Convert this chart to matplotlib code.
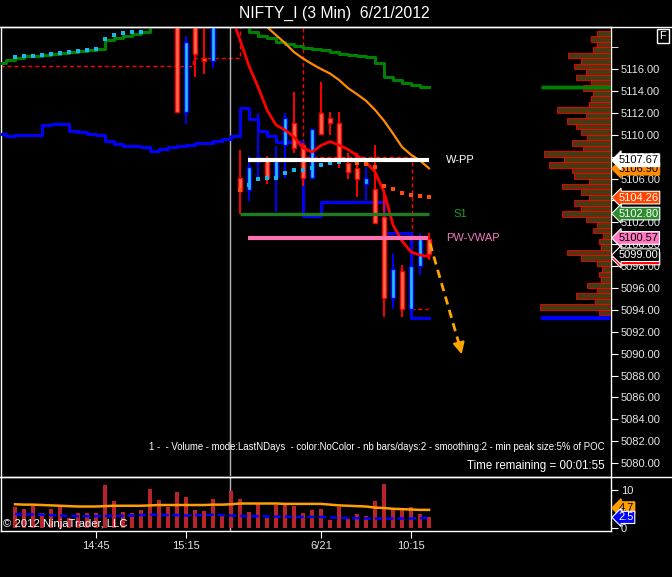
import numpy as np
import matplotlib
matplotlib.use('Agg')
import matplotlib.pyplot as plt
from matplotlib import transforms
from matplotlib.lines import Line2D

plt.rcParams['font.family'] = ['Liberation Sans', 'DejaVu Sans']

# candles (bar index, open, high, low, close) - bars above the visible range are left out
cdl_idx = [18, 19, 20, 21, 22, 25, 26, 27, 28, 29, 30, 31, 32, 33, 34, 35, 36, 37, 38, 39, 40, 41, 42, 43, 44, 45, 46]
cdl_open = [5121.5, 5112.05, 5120.5, 5116.98, 5116.73, 5106.02, 5104.95, 5107.48, 5107.90, 5106.11, 5109.06, 5111.04,
            5109.04, 5106.02, 5111.95, 5111.50, 5111.04, 5107.44, 5106.93, 5105.47, 5105.01, 5102.46, 5095.06,
            5097.55, 5094.08, 5098.04, 5100.45]
cdl_high = [5122.0, 5119.0, 5121.0, 5120.3, 5121.0, 5108.60, 5108.05, 5111.95, 5108.05, 5108.94, 5112.03, 5113.93,
            5109.24, 5110.52, 5114.84, 5112.10, 5112.10, 5108.30, 5108.30, 5107.08, 5109.06, 5104.95, 5099.10,
            5098.10, 5098.10, 5101.00, 5101.00]
cdl_low = [5112.0, 5111.0, 5115.3, 5115.57, 5116.06, 5102.76, 5103.95, 5106.05, 5105.47, 5102.97, 5106.05, 5108.30,
           5105.36, 5105.95, 5110.02, 5109.97, 5107.00, 5106.00, 5104.34, 5104.04, 5101.94, 5093.38, 5094.06,
           5093.32, 5094.00, 5097.19, 5098.56]
cdl_close = [5112.05, 5118.45, 5117.35, 5116.70, 5120.5, 5104.90, 5107.08, 5108.01, 5106.07, 5107.60, 5111.55, 5108.76,
             5106.02, 5110.49, 5110.04, 5111.04, 5107.69, 5106.57, 5105.93, 5106.02, 5101.98, 5095.06, 5097.71,
             5094.06, 5098.04, 5100.47, 5099.11]

# stepped trailing lines
green_x = [-1.7, -1, 0, 1, 3, 4, 5, 6, 7, 8, 9, 10, 11, 12, 13, 14, 15,
           26, 27, 28, 29, 30, 31, 32, 33, 34, 35, 36, 37, 38, 39, 40, 41, 42, 43, 44, 45, 46]
green_y = [5116.58, 5116.85, 5117.03, 5117.19, 5117.28, 5117.37, 5117.46, 5117.55, 5117.64, 5117.74, 5117.83,
           5118.62, 5118.86, 5119.04, 5119.17, 5119.35, 5121.0,
           5119.35, 5119.04, 5118.80, 5118.44, 5118.26, 5118.07, 5117.89, 5117.83, 5117.71, 5117.58, 5117.40,
           5117.28, 5117.16, 5117.07, 5116.58, 5115.30, 5115.00, 5114.69, 5114.51, 5114.33, 5114.33]
blue_x = [-1.7, -1, 0, 3, 4, 6, 7, 8, 9, 10, 11, 12, 14, 15, 16, 17, 18, 19, 20, 21, 22, 23, 24,
          25, 26, 27, 28, 29, 32, 34, 41, 44, 46]
blue_y = [5110.04, 5109.91, 5110.0, 5110.86, 5111.0, 5110.34, 5110.25, 5110.09, 5110.0, 5109.42, 5109.18, 5109.0,
          5108.88, 5108.51, 5108.72, 5108.90, 5109.0, 5109.09, 5109.21, 5109.27, 5109.40, 5109.58, 5109.91,
          5112.41, 5111.46, 5110.37, 5109.91, 5109.31, 5102.58, 5103.85, 5101.0, 5093.29, 5093.29]

# stop dots
cyan_x = [0, 1, 2, 3, 4, 5, 6, 7, 8, 9, 10, 11, 12, 13, 14, 26, 27, 28, 29, 30, 31, 32, 33, 34, 35, 36]
cyan_y = [5117.10, 5117.21, 5117.21, 5117.31, 5117.40, 5117.49, 5117.58, 5117.67, 5117.76, 5117.85, 5118.77,
          5119.13, 5119.26, 5119.35, 5119.41, 5105.41, 5105.98, 5106.07, 5106.07, 5106.53, 5106.78, 5106.78,
          5106.93, 5107.26, 5107.44, 5107.53]
dot_x = [25, 37, 38, 39, 40, 41, 42, 43, 44, 45, 46]
dot_y = [5104.98, 5107.70, 5107.42, 5107.32, 5107.08, 5105.32, 5105.07, 5104.70, 5104.49, 5104.40, 5104.31]

# moving averages
ema_x = list(range(24, 47))
ema_y = [5121.0, 5118.65, 5116.27, 5114.36, 5112.26, 5110.89, 5110.43, 5109.79, 5108.79, 5108.42, 5109.02,
         5109.38, 5109.06, 5108.65, 5108.10, 5107.50, 5106.60, 5104.77, 5101.75, 5100.29, 5099.29, 5099.01, 5098.86]
sma_x = list(range(27, 47))
sma_y = [5121.0, 5119.84, 5119.10, 5118.37, 5117.55, 5116.96, 5116.46, 5116.0, 5115.59, 5115.0, 5114.26,
         5113.70, 5113.10, 5112.27, 5111.28, 5110.11, 5108.88, 5108.17, 5107.64, 5106.93]

# dashed day high/low
dash1_x = [-1.7, 19.8, 19.8, 25.0, 25.0]
dash1_y = [5116.25, 5116.25, 5116.98, 5116.98, 5121.0]
dash2_x = [32.0, 32.0, 44.1, 44.1, 45.9]
dash2_y = [5121.0, 5107.96, 5107.96, 5094.08, 5094.08]

wpp, s1, pwvwap = 5107.67, 5102.80, 5100.57

# volume panel
vol = [5.55, 4.9, 5.7, 3.9, 4.9, 5.55, 2.6, 3.9, 3.9, 3.9, 11.3, 7.1, 4.1, 3.9, 4.8, 10.4, 7.4, 5.55, 9.6, 8.2,
       4.6, 4.3, 7.6, 3.3, 9.8, 7.6, 4.1, 6.2, 2.5, 6.1, 6.2, 5.7, 3.9, 4.6, 4.9, 1.9, 5.4, 2.3, 3.7, 3.0,
       7.1, 11.7, 5.3, 4.9, 5.5, 3.6, 2.7]
vol_avg = [6.2, 6.1, 6.1, 6.0, 5.9, 5.8, 5.7, 5.6, 5.6, 5.6, 5.7, 5.8, 5.8, 5.8, 5.8, 5.9, 6.0, 6.0, 6.0, 6.0,
           6.0, 6.0, 6.1, 6.1, 6.2, 6.4, 6.4, 6.4, 6.4, 6.4, 6.3, 6.3, 6.3, 6.3, 6.3, 6.1, 5.9, 5.8, 5.7, 5.6,
           5.3, 5.2, 5.0, 4.9, 4.8, 4.7, 4.7]
vol_slow = [3.6, 3.5, 3.5, 3.4, 3.3, 3.2, 3.1, 3.0, 3.0, 3.0, 3.1, 3.1, 3.1, 3.2, 3.3, 3.4, 3.4, 3.3, 3.3, 3.2,
            3.3, 3.3, 3.4, 3.3, 3.2, 3.1, 3.0, 3.0, 2.9, 2.9, 2.9, 2.8, 2.8, 2.8, 2.8, 2.7, 2.6, 2.5, 2.5, 2.4,
            2.4, 2.4, 2.4, 2.4, 2.4, 2.5, 2.5]

# volume profile on the right
prof_price = np.arange(5093.75, 5119.5, 0.5)
prof_len = [12, 72, 16, 35, 14, 24, 10, 12, 9, 14, 30, 45, 10, 12, 8, 18, 14, 25, 50, 30, 38, 22, 30, 50, 22, 38,
            40, 63, 48, 68, 28, 40, 24, 30, 35, 45, 25, 55, 22, 20, 18, 28, 20, 35, 25, 38, 30, 44, 18, 14, 20, 14]

time_ticks = [9, 19, 34, 44]
time_labels = ['14:45', '15:15', '6/21', '10:15']

W, H = 672, 577
fig = plt.figure(figsize=(6.72, 5.77), dpi=100, facecolor='black')


def fbox(x0, y0, x1, y1):
    return [x0 / W, 1 - y1 / H, (x1 - x0) / W, (y1 - y0) / H]


ax = fig.add_axes(fbox(1, 27, 611, 476))
axv = fig.add_axes(fbox(1, 477, 611, 531))
axp = fig.add_axes(fbox(540, 27, 611, 476))

xlim = (-1.56, 66.22)
ylim = (5078.83, 5119.84)
for a in (ax, axv):
    a.set_facecolor('black')
    a.set_xlim(*xlim)
    for s in a.spines.values():
        s.set_color('white')
        s.set_linewidth(1)

ax.set_ylim(*ylim)
ax.spines['bottom'].set_visible(False)
ax.set_xticks([])
ax.yaxis.tick_right()
ax.set_yticks(np.arange(5080, 5117, 2))
ax.set_yticks([5118], minor=True)
ax.yaxis.set_major_formatter(plt.FormatStrFormatter('%.2f'))
ax.tick_params(axis='y', which='both', colors='white', labelcolor='#e6e6e6', labelsize=8, length=5, pad=2)

# lines
ax.plot(green_x, green_y, drawstyle='steps-post', color='#008000', lw=2.2, zorder=3)
ax.plot(blue_x, blue_y, drawstyle='steps-post', color='#0000ff', lw=2.2, zorder=3)
ax.plot(dash1_x, dash1_y, color='#ff0000', lw=1, ls=(0, (3, 2)), zorder=2)
ax.plot(dash2_x, dash2_y, color='#ff0000', lw=1, ls=(0, (3, 2)), zorder=2)
ax.plot(sma_x, sma_y, color='#ff8c00', lw=1.6, zorder=4)

# candles
for i, o, h, l, c in zip(cdl_idx, cdl_open, cdl_high, cdl_low, cdl_close):
    if c >= o:
        fill, edge = '#1ec8ff', '#0000ff'
    else:
        fill, edge = '#ff6a4d', '#ff0000'
    ax.vlines(i, l, h, color=edge, lw=1.4, zorder=5)
    ax.bar(i, abs(c - o), bottom=min(o, c), width=0.5, color=fill, edgecolor=edge, lw=1, zorder=6)

ax.plot(ema_x, ema_y, color='#ff0000', lw=2, zorder=7)
ax.plot(cyan_x, cyan_y, 's', color='#18b8ee', ms=3.2, mew=0, zorder=8)
ax.plot(dot_x, dot_y, 's', color='#ff4a10', ms=3.2, mew=0, zorder=8)

# pivots
ax.hlines(wpp, 25.9, 46, color='white', lw=3, zorder=9)
ax.hlines(s1, 25.0, 46, color='#207a20', lw=2.4, zorder=9)
ax.hlines(pwvwap, 25.9, 45.9, color='#ff70b0', lw=3, zorder=9)
ax.text(47.9, wpp, 'W-PP', color='white', fontsize=8, va='center', zorder=9)
ax.text(48.7, s1, 'S1', color='#22a022', fontsize=8, va='center', zorder=9)
ax.text(47.9, pwvwap, 'PW-VWAP', color='#f07ac0', fontsize=8, va='center', zorder=9)

# forecast arrow
ax.plot([46.1, 49.3], [5100.1, 5091.0], color='#ffa500', lw=2, ls=(0, (3, 2)), zorder=9)
ax.annotate('', xy=(49.7, 5089.7), xytext=(49.25, 5091.2),
            arrowprops=dict(arrowstyle='-|>,head_length=0.7,head_width=0.35', color='#ffa500', lw=1.5), zorder=9)

# right extensions of green / blue
ax.hlines(5114.33, 58.4, 66.2, color='#008000', lw=2.5, zorder=3)
ax.hlines(5093.29, 58.4, 66.2, color='#0000ff', lw=3, zorder=3)

# session break
ax.axvline(23.9, color='#b4b4b4', lw=1, zorder=2)
axv.axvline(23.9, color='#b4b4b4', lw=1, zorder=2)

# profile
axp.set_ylim(*ylim)
axp.set_xlim(72, 0)
axp.patch.set_visible(False)
axp.axis('off')
axp.barh(prof_price, prof_len, height=0.5, color='#4a3a12', edgecolor='#ff0000', lw=0.6)
axp.hlines(5114.33, 0, 70, color='#008000', lw=2.5)
axp.hlines(5093.29, 0, 70, color='#0000ff', lw=3)

# price tags
tr = transforms.blended_transform_factory(ax.transAxes, ax.transData)
tags = [(5106.90, '5106.90', '#ff8c00', 'black', '#ff8c00'),
        (5107.67, '5107.67', 'white', 'black', 'white'),
        (5104.26, '5104.26', '#ff4500', 'white', 'white'),
        (5102.80, '5102.80', '#2e8b2e', 'white', 'white'),
        (5100.57, '5100.57', '#ff77c0', 'black', 'white'),
        (5098.70, '5098.86', '#ff0000', 'white', 'white'),
        (5099.00, '5099.00', 'black', 'white', 'white')]
for p, t, fc, tc, ec in tags:
    ax.text(1.012, p, t, transform=tr, ha='left', va='center', fontsize=8, color=tc, clip_on=False, zorder=20,
            bbox=dict(boxstyle='larrow,pad=0.12', fc=fc, ec=ec, lw=0.8))

# volume panel
vx = np.arange(len(vol))
axv.set_ylim(-0.93, 13.47)
axv.bar(vx, vol, width=0.38, color='#b8242a', zorder=2)
axv.plot(vx, vol_avg, color='#ffa000', lw=1.8, zorder=3)
axv.plot(vx, vol_slow, color='#0000ff', lw=1.8, ls=(0, (3, 1.5)), zorder=3)
axv.yaxis.tick_right()
axv.set_yticks([0, 10])
axv.tick_params(axis='y', colors='white', labelcolor='#e6e6e6', labelsize=8, length=5, pad=2)
axv.set_xticks(time_ticks)
axv.set_xticklabels(time_labels)
axv.tick_params(axis='x', colors='white', labelcolor='#e6e6e6', labelsize=8, length=5, pad=2)
trv = transforms.blended_transform_factory(axv.transAxes, axv.transData)
axv.text(1.012, 5.2, '4.7', transform=trv, ha='left', va='center', fontsize=8, color='black', clip_on=False,
         zorder=20, bbox=dict(boxstyle='larrow,pad=0.1', fc='#ffa000', ec='#ffa000'))
axv.text(1.012, 2.7, '2.5', transform=trv, ha='left', va='center', fontsize=8, color='white', clip_on=False,
         zorder=20, bbox=dict(boxstyle='larrow,pad=0.1', fc='#0000ff', ec='white', lw=0.8))

# frame lines across the full width
fig.add_artist(Line2D([0, 1], [1 - 27 / H, 1 - 27 / H], color='white', lw=1))
fig.add_artist(Line2D([0, 1], [1 - 477 / H, 1 - 477 / H], color='white', lw=1))

fig.text(0.497, 1 - 13 / H, 'NIFTY_I (3 Min)  6/21/2012', ha='center', va='center', color='white', fontsize=11.3)
fig.text(663 / W, 1 - 36 / H, 'F', ha='center', va='center', color='white', fontsize=8,
         bbox=dict(boxstyle='square,pad=0.2', fc='black', ec='white', lw=1))
fig.text(605 / W, 1 - 447 / H, '1 -  - Volume - mode:LastNDays  - color:NoColor - nb bars/days:2 - smoothing:2 - min peak size:5% of POC',
         ha='right', va='center', color='white', fontsize=6.9)
fig.text(605 / W, 1 - 466 / H, 'Time remaining = 00:01:55', ha='right', va='center', color='white', fontsize=8.3)
fig.text(3 / W, 1 - 524 / H, '\u00a9 2012 NinjaTrader, LLC', ha='left', va='center', color='white', fontsize=8.1)

fig.savefig('out.png', dpi=100, facecolor='black')
